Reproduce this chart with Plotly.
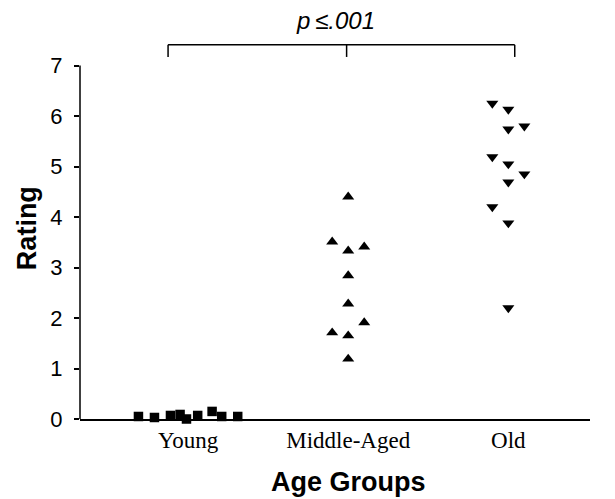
import plotly.graph_objects as go

# ---- data ----
categories = ["Young", "Middle-Aged", "Old"]
cat_pos = [1, 2, 3]

young_vals = [0.05, 0.03, 0.07, 0.09, 0.00, 0.07, 0.15, 0.05, 0.05]
young_jitter = [-0.31, -0.21, -0.11, -0.05, -0.01, 0.06, 0.15, 0.21, 0.31]

middle_vals = [4.40, 3.51, 3.33, 3.41, 2.84, 2.28, 1.91, 1.71, 1.65, 1.19]
middle_jitter = [0, -0.1, 0, 0.1, 0, 0, 0.1, -0.1, 0, 0]

old_vals = [6.25, 6.13, 5.74, 5.80, 5.19, 5.05, 4.85, 4.69, 4.20, 3.88, 2.20]
old_jitter = [-0.1, 0, 0, 0.1, -0.1, 0, 0.1, 0, -0.1, 0, 0]

y_ticks = [0, 1, 2, 3, 4, 5, 6, 7]
sig_label = "<i>p\u2009≤.001</i>"

fig = go.Figure()

fig.add_trace(go.Scatter(
    x=[cat_pos[0] + j for j in young_jitter], y=young_vals, mode="markers",
    marker=dict(symbol="square", size=9.5, color="black"),
    cliponaxis=False, showlegend=False))
fig.add_trace(go.Scatter(
    x=[cat_pos[1] + j for j in middle_jitter], y=middle_vals, mode="markers",
    marker=dict(symbol="triangle-up", size=10.5, color="black"),
    cliponaxis=False, showlegend=False))
fig.add_trace(go.Scatter(
    x=[cat_pos[2] + j for j in old_jitter], y=old_vals, mode="markers",
    marker=dict(symbol="triangle-down", size=10.5, color="black"),
    cliponaxis=False, showlegend=False))

line_style = dict(color="black", width=1.5)
# y axis line from 0 to 7
fig.add_shape(type="line", xref="paper", yref="y", x0=0, x1=0, y0=0, y1=7, line=line_style)
# significance bracket
bx0, bxm, bx1 = 0.875, 1.99, 3.04
btop, bleg = 7.41, 7.17
fig.add_shape(type="line", xref="x", yref="y", x0=bx0, x1=bx1, y0=btop, y1=btop, line=line_style)
for bx in (bx0, bxm, bx1):
    fig.add_shape(type="line", xref="x", yref="y", x0=bx, x1=bx, y0=bleg, y1=btop, line=line_style)

fig.add_annotation(x=1.92, y=7.9, xref="x", yref="y", text=sig_label, showarrow=False,
                   font=dict(family="Liberation Sans", size=24, color="black"),
                   xanchor="center", yanchor="middle")
fig.add_annotation(x=0, xref="paper", xshift=-53, y=3.78, yref="y", text="<b>Rating</b>",
                   textangle=-90, showarrow=False,
                   font=dict(family="Liberation Sans", size=27, color="black"),
                   xanchor="center", yanchor="middle")
fig.add_annotation(x=2.0, xref="x", y=0, yref="paper", yshift=-63, text="<b>Age Groups</b>",
                   showarrow=False,
                   font=dict(family="Liberation Sans", size=27, color="black"),
                   xanchor="center", yanchor="middle")

fig.update_layout(
    width=615, height=499,
    margin=dict(l=80, r=25, t=10, b=80),
    paper_bgcolor="white", plot_bgcolor="white",
    xaxis=dict(range=[0.325, 3.51], tickvals=cat_pos, ticktext=categories,
               showline=True, linecolor="black", linewidth=1.5, ticks="",
               showgrid=False, zeroline=False,
               tickfont=dict(family="Liberation Serif", size=23, color="black")),
    yaxis=dict(range=[0, 8.1], tickvals=y_ticks, showline=False, ticks="outside",
               ticklen=5, tickwidth=1.5, tickcolor="black", showgrid=False, zeroline=False,
               ticklabelstandoff=7,
               tickfont=dict(family="Liberation Sans", size=22, color="black")),
)

fig.write_html("out.html", config={"displayModeBar": False},
               post_script="document.body.style.margin='0';document.body.style.overflow='hidden';")
